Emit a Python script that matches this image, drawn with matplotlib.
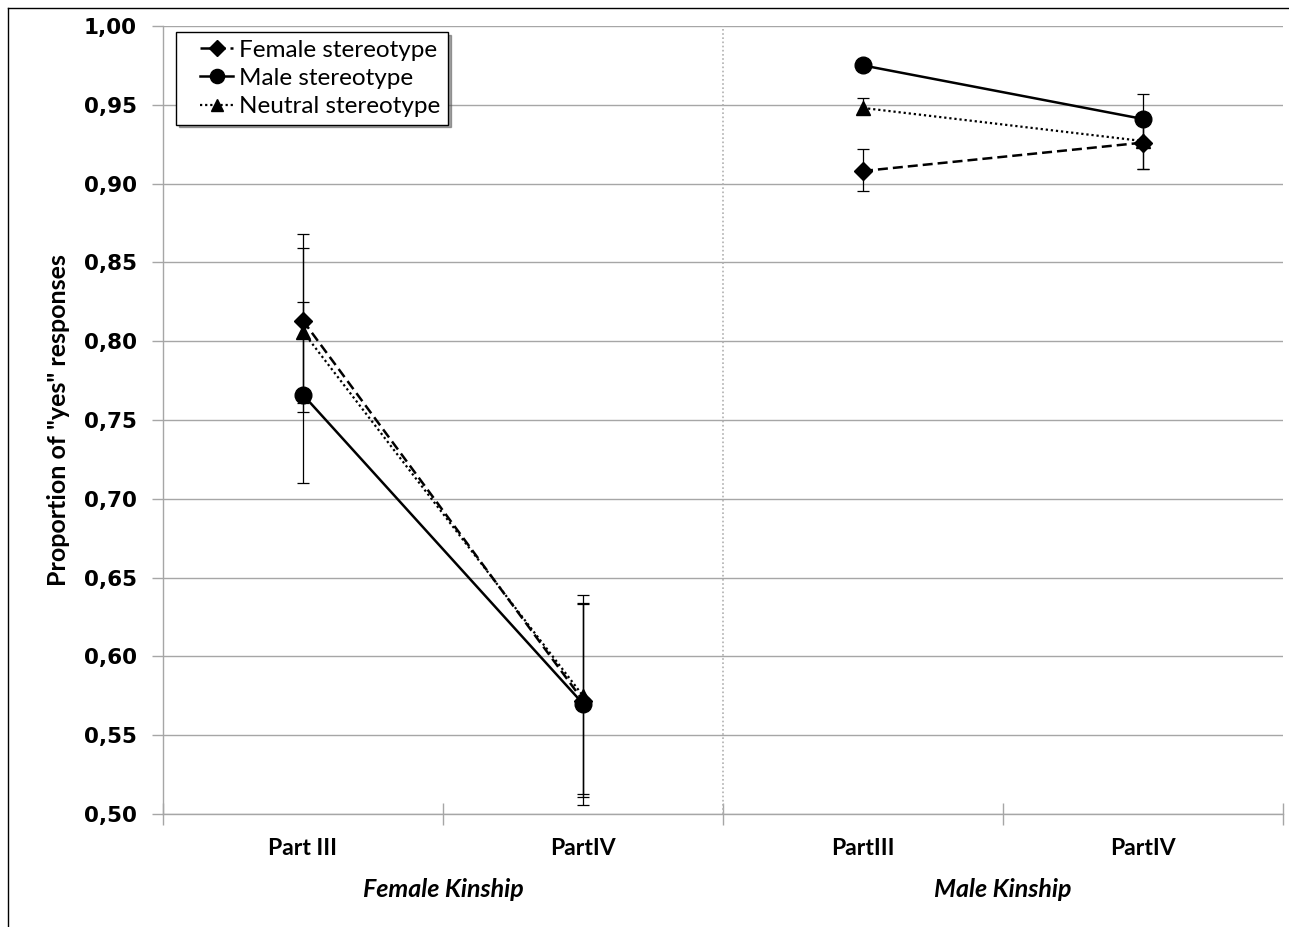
import matplotlib
matplotlib.use("Agg")
import matplotlib.pyplot as plt
from matplotlib.lines import Line2D
from matplotlib.legend_handler import HandlerLine2D
import numpy as np

# ---- data ----
parts = ["Part III", "PartIV", "PartIII", "PartIV"]
groups = ["Female Kinship", "Male Kinship"]
series = ["Female stereotype", "Male stereotype", "Neutral stereotype"]

female_mean = [0.813, 0.572, 0.908, 0.926]
female_low = [0.761, 0.513, 0.895, 0.909]
female_high = [0.868, 0.633, 0.922, 0.943]

male_mean = [0.766, 0.570, 0.975, 0.941]
male_low = [0.710, 0.506, 0.972, 0.925]
male_high = [0.825, 0.634, 0.978, 0.957]

neutral_mean = [0.806, 0.575, 0.948, 0.927]
neutral_low = [0.755, 0.511, 0.944, 0.909]
neutral_high = [0.859, 0.639, 0.954, 0.945]

yticks = [0.50, 0.55, 0.60, 0.65, 0.70, 0.75, 0.80, 0.85, 0.90, 0.95, 1.00]

# ---- figure ----
W, H = 1289, 927
fig = plt.figure(figsize=(W / 100, H / 100), dpi=100)
ax = fig.add_axes([163 / W, (H - 814) / H, 1120 / W, 788 / H])

x = np.arange(len(parts))
styles = [
    (female_mean, female_low, female_high, "D", 9, (0, (4, 2)), 1.8),
    (male_mean, male_low, male_high, "o", 12, "-", 1.8),
    (neutral_mean, neutral_low, neutral_high, "^", 10, (0, (1, 1.3)), 1.6),
]
handles = []
for (m, lo, hi, mk, ms, ls, lw), name in zip(styles, series):
    m = np.array(m); lo = np.array(lo); hi = np.array(hi)
    ax.errorbar(x, m, yerr=[m - lo, hi - m], fmt="none", ecolor="black",
                elinewidth=0.9, capsize=4, capthick=0.9, zorder=3)
    for seg in (slice(0, 2), slice(2, 4)):
        ax.plot(x[seg], m[seg], color="black", linestyle=ls, linewidth=lw,
                marker=mk, markersize=ms, markerfacecolor="black",
                markeredgecolor="black", zorder=4)
    handles.append(Line2D([0], [0], color="black", linestyle=ls, linewidth=lw,
                          marker=mk, markersize=ms * 0.85, markerfacecolor="black"))

ax.set_xlim(-0.5, 3.5)
ax.set_ylim(0.50, 1.00)
ax.set_yticks(yticks)
ax.set_yticklabels([f"{v:.2f}".replace(".", ",") for v in yticks],
                   fontfamily="DejaVu Sans", fontweight="bold", fontsize=15.5)
ax.yaxis.grid(True, color="#a6a6a6", linewidth=1.0)
ax.set_axisbelow(True)

ax.set_xticks([-0.5, 0.5, 1.5, 2.5, 3.5])
ax.set_xticklabels([])
ax.set_xticks(x, minor=True)
ax.set_xticklabels(parts, minor=True, fontfamily="Lato", fontweight="bold", fontsize=16.5)
ax.tick_params(axis="x", which="minor", length=0, pad=17)
ax.tick_params(axis="x", which="major", direction="inout", length=16, color="#a6a6a6", width=1)
ax.tick_params(axis="y", direction="out", length=8, color="#a6a6a6", width=1, pad=11)

for s in ("top", "right"):
    ax.spines[s].set_visible(False)
for s in ("left", "bottom"):
    ax.spines[s].set_color("#a6a6a6")
    ax.spines[s].set_linewidth(1.0)

ax.axvline(1.5, color="#b0b0b0", linestyle=(0, (1, 1.5)), linewidth=1.2, zorder=1)

for i, g in enumerate(groups):
    ax.text(0.5 + 2 * i, -0.0964, g, transform=ax.get_xaxis_transform(),
            ha="center", va="center", fontfamily="Lato", fontweight="bold",
            fontstyle="italic", fontsize=18)

ax.set_ylabel('Proportion of "yes" responses', fontfamily="Lato",
              fontweight="bold", fontsize=18)
ax.yaxis.set_label_coords(-0.083, 0.5)

leg = ax.legend(handles, series, loc="upper left", bbox_to_anchor=(0.0116, 0.992),
                borderaxespad=0, frameon=True, fancybox=False, shadow=True,
                handlelength=2.05, handletextpad=0.25, labelspacing=0.3,
                borderpad=0.3, prop={"family": "Lato", "size": 17.5},
                handler_map={Line2D: HandlerLine2D(xpad=0.7)})
leg.get_frame().set_edgecolor("black")
leg.get_frame().set_linewidth(1.0)

# figure border (top and left visible)
fig.add_artist(Line2D([8 / W, 8 / W], [0, 1 - 8 / H], transform=fig.transFigure,
                      color="black", linewidth=1))
fig.add_artist(Line2D([8 / W, 1], [1 - 8 / H, 1 - 8 / H], transform=fig.transFigure,
                      color="black", linewidth=1))

fig.savefig("out.png", dpi=100)
